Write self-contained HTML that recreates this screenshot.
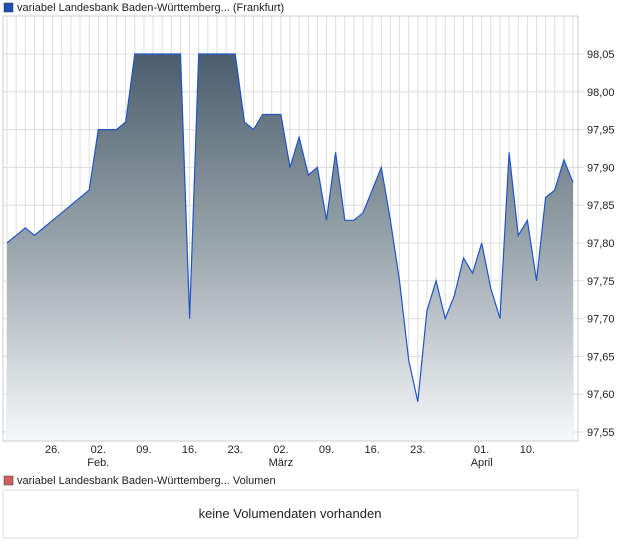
<!DOCTYPE html>
<html><head><meta charset="utf-8"><style>
body{margin:0;background:#fff;font-family:"Liberation Sans",sans-serif;}
svg{display:block}
text{font-family:"Liberation Sans",sans-serif;fill:#222}
</style></head><body>
<svg width="620" height="546">
<defs><linearGradient id="g" x1="0" y1="54" x2="0" y2="441" gradientUnits="userSpaceOnUse">
<stop offset="0" stop-color="#4b5e6c"/><stop offset="0.5" stop-color="#9aa6ad"/><stop offset="1" stop-color="#f7f8f9"/></linearGradient></defs>
<rect x="4" y="3" width="9" height="9" fill="#1a4fb4" stroke="#333" stroke-width="0.5"/>
<text x="17" y="11" font-size="11">variabel Landesbank Baden-Württemberg... (Frankfurt)</text>
<g id="grid"></g>
<path id="area" fill="url(#g)"/>
<path id="line" fill="none" stroke="#1f55c8" stroke-width="1.2"/>
<rect x="3" y="16" width="575" height="425" fill="none" stroke="#ccc"/>
<g id="yax"></g><g id="xax"></g>
<rect x="4" y="476" width="9" height="9" fill="#d06060" stroke="#333" stroke-width="0.5"/>
<text x="17" y="484" font-size="11">variabel Landesbank Baden-Württemberg... Volumen</text>
<rect x="3" y="490" width="575" height="48" fill="#fff" stroke="#ddd"/>
<text x="290" y="518" font-size="13" text-anchor="middle">keine Volumendaten vorhanden</text>
</svg>
<script>
const prices=[97.80,97.81,97.82,97.81,97.82,97.83,97.84,97.85,97.86,97.87,97.95,97.95,97.95,97.96,98.05,98.05,98.05,98.05,98.05,98.05,97.70,98.05,98.05,98.05,98.05,98.05,97.96,97.95,97.97,97.97,97.97,97.90,97.94,97.89,97.90,97.83,97.92,97.83,97.83,97.84,97.87,97.90,97.83,97.75,97.645,97.59,97.71,97.75,97.70,97.73,97.78,97.76,97.80,97.74,97.70,97.92,97.81,97.83,97.75,97.86,97.87,97.91,97.88];
const yTicks=[97.55,97.60,97.65,97.70,97.75,97.80,97.85,97.90,97.95,98.00,98.05];
const xLabelIdx=[5,10,15,20,25,30,35,40,45,52,57];
const xLabels=["26.","02.","09.","16.","23.","02.","09.","16.","23.","01.","10."];
const monthIdx=[10,30,52];
const monthLabels=["Feb.","März","April"];
const NS="http://www.w3.org/2000/svg";
const X=i=>7+i*(566/62);
const Y=v=>54+(98.05-v)/0.5*378;
function mk(tag,attrs,parent,txt){const e=document.createElementNS(NS,tag);for(const k in attrs)e.setAttribute(k,attrs[k]);if(txt)e.textContent=txt;parent.appendChild(e);return e;}
const grid=document.getElementById('grid'),yax=document.getElementById('yax'),xax=document.getElementById('xax');
for(let i=0;i<prices.length;i++){const l=mk('line',{x1:X(i),x2:X(i),y1:16,y2:441,stroke:'#ddd'},grid);

}
yTicks.forEach(v=>{const l=mk('line',{x1:3,x2:584,y1:Y(v),y2:Y(v),stroke:'#ddd'},grid);


const t=mk('text',{x:587,y:Y(v)+4,'font-size':11},yax,v.toFixed(2).replace('.',','));

});
xLabelIdx.forEach((i,k)=>{const t=mk('text',{x:X(i),y:453,'font-size':11,'text-anchor':'middle'},xax,xLabels[k]);

});
monthIdx.forEach((i,k)=>{const t=mk('text',{x:X(i),y:466,'font-size':11,'text-anchor':'middle'},xax,monthLabels[k]);

});
let d=prices.map((v,i)=>(i?'L':'M')+X(i).toFixed(1)+','+Y(v).toFixed(1)).join('');
document.getElementById('line').setAttribute('d',d);
document.getElementById('area').setAttribute('d',d+'L'+X(prices.length-1)+',441L'+X(0)+',441Z');
</script>
</body></html>
